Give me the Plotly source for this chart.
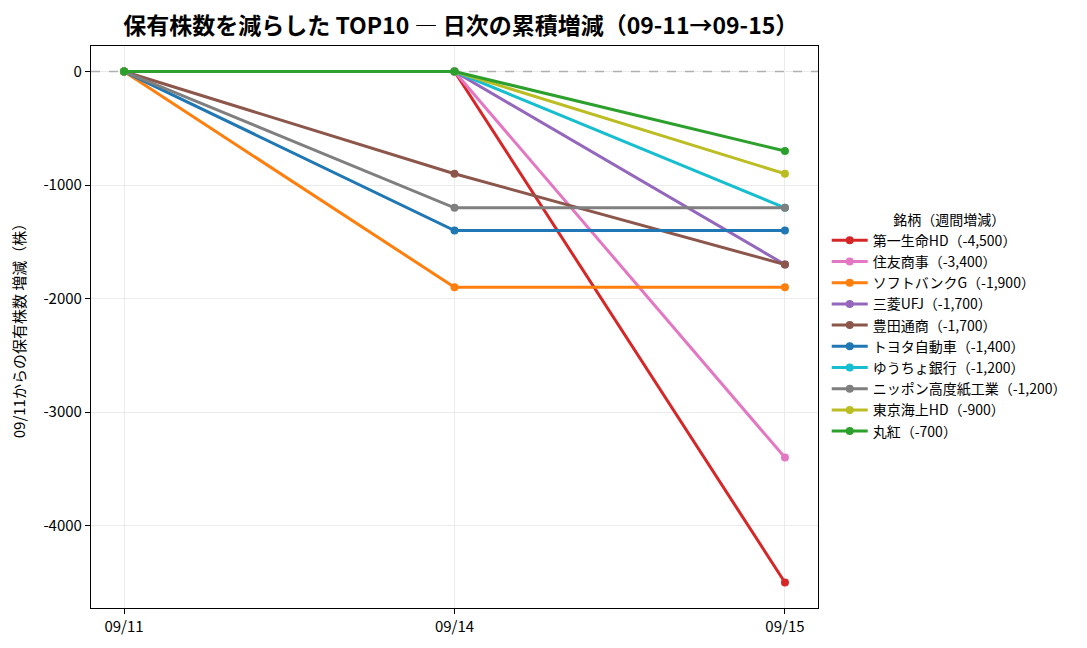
import plotly.graph_objects as go

# dates (categorical x axis)
dates = ["09/11", "09/14", "09/15"]

# stocks in legend order with their cumulative change per day
names = ["第一生命HD", "住友商事", "ソフトバンクG", "三菱UFJ", "豊田通商",
         "トヨタ自動車", "ゆうちょ銀行", "ニッポン高度紙工業", "東京海上HD", "丸紅"]
daiichi = [0, 0, -4500]
sumitomo = [0, 0, -3400]
softbank = [0, -1900, -1900]
mufg = [0, 0, -1700]
toyotsu = [0, -900, -1700]
toyota = [0, -1400, -1400]
yucho = [0, 0, -1200]
nippon_kodoshi = [0, -1200, -1200]
tokio_marine = [0, 0, -900]
marubeni = [0, 0, -700]
series = [daiichi, sumitomo, softbank, mufg, toyotsu,
          toyota, yucho, nippon_kodoshi, tokio_marine, marubeni]

colors = ["#d62728", "#e377c2", "#ff7f0e", "#9467bd", "#8c564b",
          "#1f77b4", "#17becf", "#7f7f7f", "#bcbd22", "#2ca02c"]

y_ticks = [0, -1000, -2000, -3000, -4000]
y_tick_labels = ["0", "-1000", "-2000", "-3000", "-4000"]

x_range = [-0.1, 2.1]
y_range = [-4725, 225]

FONT = "Noto Sans CJK JP"

fig = go.Figure()

# dashed zero baseline, drawn first so the series lie on top of it
fig.add_trace(go.Scatter(
    x=x_range, y=[0, 0], mode="lines",
    line=dict(color="#b0b0b0", width=1.4, dash="dash"),
    showlegend=False, hoverinfo="skip",
))

for name, vals, col in zip(names, series, colors):
    total = vals[-1]
    fig.add_trace(go.Scatter(
        x=[0, 1, 2], y=vals,
        mode="lines+markers",
        line=dict(color=col, width=3),
        marker=dict(color=col, size=8),
        name=f"{name}（{total:,}）",
    ))

fig.update_layout(
    width=1087, height=648,
    margin=dict(l=83, r=277, t=38, b=48),
    paper_bgcolor="white", plot_bgcolor="white",
    font=dict(family=FONT, size=14, color="black"),
    title=dict(text="<b>保有株数を減らした TOP10 ― 日次の累積増減（09-11→09-15）</b>",
               x=0.4165, xanchor="center", y=0.984, yanchor="top",
               font=dict(size=23, family=FONT)),
    legend=dict(
        title=dict(text="銘柄（週間増減）", side="top center", font=dict(size=14)),
        x=1.012, xanchor="left", y=0.5, yanchor="middle",
        font=dict(size=14), tracegroupgap=0, itemwidth=36,
        bgcolor="rgba(0,0,0,0)",
    ),
    xaxis=dict(
        range=x_range, tickvals=[0, 1, 2], ticktext=dates,
        showgrid=True, gridcolor="#ebebeb", zeroline=False,
        showline=True, linecolor="black", linewidth=1.2, mirror=True,
        ticks="outside", ticklen=5, tickcolor="black",
        tickfont=dict(size=15),
    ),
    yaxis=dict(
        range=y_range, tickvals=y_ticks, ticktext=y_tick_labels,
        showgrid=True, gridcolor="#ebebeb", zeroline=False,
        showline=True, linecolor="black", linewidth=1.2, mirror=True,
        ticks="outside", ticklen=5, tickcolor="black",
        tickfont=dict(size=15), automargin=False,
        title=dict(text="09/11からの保有株数 増減（株）", font=dict(size=15), standoff=14),
    ),
)

fig.write_html("out.html")
